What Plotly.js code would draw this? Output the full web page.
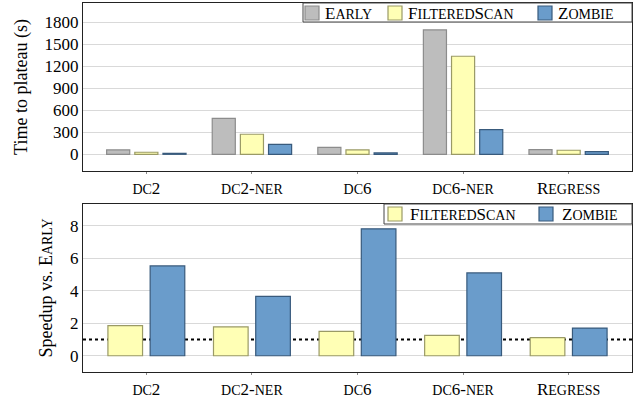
<!DOCTYPE html>
<html>
<head>
<meta charset="utf-8">
<script src="https://cdn.plot.ly/plotly-3.0.1.min.js"></script>
<style>
#chart text { font-family: "Liberation Serif", "Times New Roman", serif !important; }
</style>
</head>
<body style="margin:0">
<div id="chart"></div>
<script>
const categories = ["dc2", "dc2-ner", "dc6", "dc6-ner", "Regress"];
const timeEarly = [60, 491, 95, 1696, 63];
const timeFiltered = [28, 273, 59, 1337, 55];
const timeZombie = [13, 136, 18, 336, 36];
const speedupFiltered = [1.85, 1.77, 1.50, 1.25, 1.11];
const speedupZombie = [5.52, 3.65, 7.80, 5.09, 1.70];
const timeTicks = [0, 300, 600, 900, 1200, 1500, 1800];
const speedTicks = [0, 2, 4, 6, 8];
const baseline = 1;
const seriesNames = ["Early", "FilteredScan", "Zombie"];

function draw() {
  var SC = 14;
  var tickFont = {family: "Liberation Serif", size: 17, color: "#000"};
  var titleFont = {family: "Liberation Serif", size: 18, color: "#000"};
  var colEarly = {fill: "#bdbdbd", line: "#8c8c8c"};
  var colFilt = {fill: "#ffffb5", line: "#9a9a66"};
  var colZomb = {fill: "#6a9ccb", line: "#385a7c"};

  function smallCaps(s) {
    return s.replace(/[a-z]+/g, function (m) {
      return "<span style=\"font-size:" + SC + "px\">" + m.toUpperCase() + "</span>";
    });
  }

  var M = {l: 83, r: 9, t: 3, b: 29};
  var W = 641, H = 401;
  var pw = W - M.l - M.r, ph = H - M.t - M.b;
  function px(v) { return (v - M.l) / pw; }
  function py(v) { return (H - M.b - v) / ph; }

  function bar(x, y, name, col, xa, ya) {
    return {type: "bar", x: x, y: y, name: name, xaxis: xa, yaxis: ya,
      showlegend: false,
      marker: {color: col.fill, line: {color: col.line, width: 1.2}},
      hoverinfo: "y"};
  }

  var traces = [
    bar(categories, timeEarly, seriesNames[0], colEarly, "x", "y"),
    bar(categories, timeFiltered, seriesNames[1], colFilt, "x", "y"),
    bar(categories, timeZombie, seriesNames[2], colZomb, "x", "y"),
    bar(categories, speedupFiltered, seriesNames[1], colFilt, "x2", "y2"),
    bar(categories, speedupZombie, seriesNames[2], colZomb, "x2", "y2")
  ];

  function xax(anchor) {
    return {anchor: anchor, type: "category", range: [-0.6, 4.6],
      tickvals: categories, ticktext: categories.map(smallCaps),
      tickfont: tickFont, showline: true, mirror: true, linecolor: "#222", linewidth: 1,
      ticks: "outside", ticklen: 2, tickcolor: "#888", showgrid: false, zeroline: false};
  }
  function yax(anchor, domain, range, ticks, title) {
    return {anchor: anchor, domain: domain, range: range, tickvals: ticks,
      tickfont: tickFont, showline: true, mirror: true, linecolor: "#222", linewidth: 1,
      ticks: "", showgrid: true, gridcolor: "#d9d9d9", gridwidth: 1.2, zeroline: false,
      title: {text: title, font: titleFont, standoff: 12}};
  }

  var shapes = [{type: "line", xref: "x2 domain", yref: "y2", x0: 0, x1: 1, y0: baseline, y1: baseline,
    line: {color: "#000", width: 2, dash: "dot"}, layer: "below"}];
  var annotations = [];
  function legendBox(x0, y0, x1, y1, items) {
    shapes.push({type: "rect", xref: "paper", yref: "paper", x0: px(x0), x1: px(x1), y0: py(y1), y1: py(y0),
      fillcolor: "#fff", line: {color: "#444", width: 1}, layer: "above"});
    items.forEach(function (it) {
      shapes.push({type: "rect", xref: "paper", yref: "paper", x0: px(it.sx), x1: px(it.sx + 14),
        y0: py(it.sy + 14), y1: py(it.sy), fillcolor: it.col.fill, line: {color: it.col.line, width: 1.2}, layer: "above"});
      annotations.push({xref: "paper", yref: "paper", x: px(it.tx), y: py(it.sy + 7), xanchor: "left", yanchor: "middle",
        text: smallCaps(it.name), showarrow: false, font: tickFont});
    });
  }
  legendBox(303, 3, 632, 22, [
    {name: seriesNames[0], col: colEarly, sx: 305, sy: 6, tx: 323},
    {name: seriesNames[1], col: colFilt, sx: 388, sy: 6, tx: 406},
    {name: seriesNames[2], col: colZomb, sx: 538, sy: 6, tx: 556}
  ]);
  legendBox(384, 204, 632, 224, [
    {name: seriesNames[1], col: colFilt, sx: 388, sy: 207, tx: 408},
    {name: seriesNames[2], col: colZomb, sx: 539, sy: 207, tx: 560}
  ]);

  var layout = {
    width: W, height: H,
    margin: M,
    font: {family: "Liberation Serif", size: 17, color: "#000"},
    paper_bgcolor: "#fff", plot_bgcolor: "#fff",
    showlegend: false,
    barmode: "group", bargap: 0.2, bargroupgap: 0.18,
    xaxis: xax("y"),
    xaxis2: xax("y2"),
    yaxis: yax("x", [0.5447, 1], [-228, 2063], timeTicks, "Time to plateau (s)"),
    yaxis2: yax("x2", [0, 0.4553], [-1.0, 9.33], speedTicks, "Speedup vs. " + smallCaps(seriesNames[0])),
    shapes: shapes,
    annotations: annotations
  };

  Plotly.newPlot("chart", traces, layout, {displayModeBar: false});
}
draw();
</script>
</body>
</html>
